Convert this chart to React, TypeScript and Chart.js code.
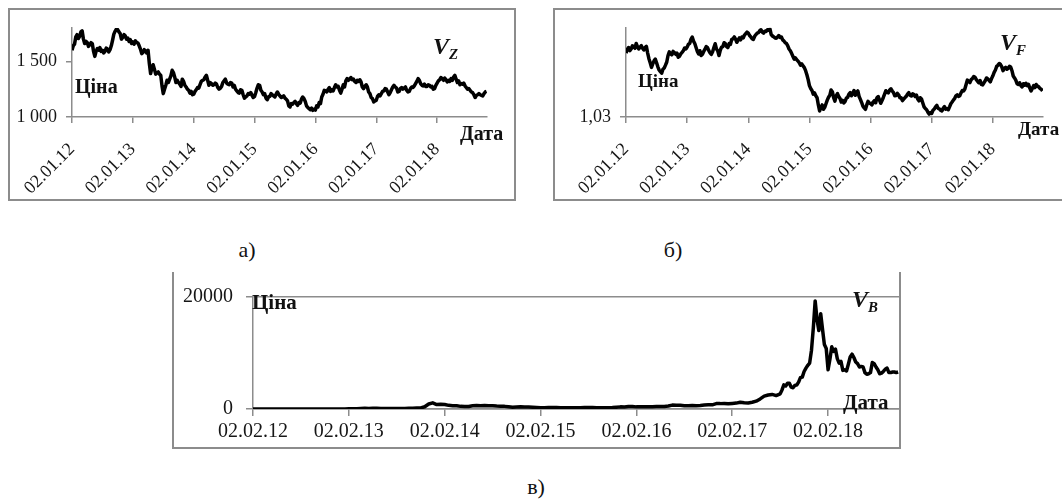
import React, { useEffect, useRef } from 'react';
import { Chart, registerables } from 'chart.js';

Chart.register(...registerables);

// ---------- data ----------
// V_Z : roughly weekly values (4 per month) starting 02.01.12
const zDates = ['02.01.12', '02.01.13', '02.01.14', '02.01.15', '02.01.16', '02.01.17', '02.01.18'];
const zPriceTicks = [1000, 1500];
const zPriceLabels = ['1 000', '1 500'];
const zPrices2012 = [1600, 1640, 1655, 1720, 1740, 1705, 1725, 1765, 1775, 1700, 1660, 1680, 1670, 1635, 1650, 1668, 1660, 1590, 1545, 1590, 1615, 1600, 1625, 1590, 1600, 1575, 1590, 1620, 1610, 1585, 1605, 1640, 1690, 1745, 1770, 1790, 1785, 1765, 1750, 1700, 1715, 1740, 1730, 1700, 1710, 1680, 1695, 1660];
const zPrices2013 = [1675, 1655, 1685, 1670, 1665, 1640, 1610, 1570, 1580, 1605, 1595, 1575, 1600, 1480, 1390, 1440, 1470, 1430, 1385, 1395, 1405, 1385, 1375, 1280, 1210, 1250, 1285, 1330, 1310, 1340, 1370, 1420, 1400, 1360, 1310, 1330, 1310, 1295, 1275, 1340, 1320, 1285, 1270, 1250, 1240, 1215, 1230, 1200];
const zPrices2014 = [1205, 1230, 1245, 1265, 1260, 1290, 1320, 1330, 1335, 1360, 1375, 1330, 1285, 1310, 1300, 1285, 1290, 1305, 1295, 1265, 1250, 1260, 1275, 1310, 1325, 1340, 1305, 1295, 1290, 1310, 1305, 1270, 1285, 1250, 1235, 1220, 1215, 1245, 1240, 1200, 1170, 1180, 1190, 1210, 1205, 1220, 1195, 1175];
const zPrices2015 = [1185, 1220, 1260, 1290, 1285, 1240, 1225, 1200, 1210, 1170, 1155, 1180, 1185, 1210, 1200, 1190, 1180, 1205, 1225, 1205, 1190, 1175, 1180, 1190, 1170, 1160, 1145, 1100, 1090, 1120, 1115, 1130, 1140, 1120, 1105, 1130, 1125, 1160, 1180, 1165, 1140, 1100, 1085, 1075, 1065, 1080, 1060, 1070];
const zPrices2016 = [1062, 1100, 1090, 1130, 1120, 1180, 1205, 1240, 1235, 1225, 1250, 1265, 1230, 1245, 1235, 1265, 1290, 1270, 1275, 1240, 1215, 1250, 1290, 1270, 1325, 1345, 1330, 1340, 1355, 1335, 1340, 1320, 1310, 1330, 1320, 1335, 1315, 1270, 1255, 1275, 1290, 1270, 1225, 1210, 1175, 1165, 1135, 1145];
const zPrices2017 = [1150, 1185, 1200, 1190, 1210, 1230, 1235, 1255, 1250, 1225, 1200, 1220, 1245, 1270, 1285, 1270, 1260, 1225, 1230, 1255, 1265, 1250, 1260, 1270, 1240, 1225, 1230, 1255, 1270, 1265, 1280, 1300, 1320, 1345, 1330, 1300, 1285, 1280, 1295, 1275, 1275, 1290, 1285, 1270, 1275, 1250, 1255, 1285];
const zPrices2018 = [1305, 1325, 1335, 1355, 1345, 1330, 1350, 1335, 1315, 1330, 1320, 1345, 1330, 1360, 1375, 1340, 1310, 1325, 1290, 1300, 1295, 1305, 1280, 1265, 1250, 1255, 1240, 1225, 1220, 1200, 1175, 1195, 1200, 1210, 1200, 1195, 1190, 1210, 1225, 1230];

// V_F : roughly weekly values (4 per month) starting 02.01.12
const fDates = ['02.01.12', '02.01.13', '02.01.14', '02.01.15', '02.01.16', '02.01.17', '02.01.18'];
const fPriceTicks = [1.03];
const fPriceLabels = ['1,03'];
const fPrices2012 = [1.295, 1.31, 1.318, 1.305, 1.312, 1.325, 1.322, 1.315, 1.335, 1.322, 1.312, 1.32, 1.326, 1.315, 1.308, 1.318, 1.323, 1.295, 1.272, 1.255, 1.236, 1.25, 1.263, 1.27, 1.255, 1.238, 1.225, 1.218, 1.212, 1.228, 1.233, 1.245, 1.258, 1.285, 1.3, 1.292, 1.288, 1.302, 1.297, 1.29, 1.295, 1.278, 1.282, 1.292, 1.298, 1.305, 1.316, 1.312];
const fPrices2013 = [1.32, 1.332, 1.335, 1.352, 1.362, 1.345, 1.335, 1.318, 1.302, 1.292, 1.305, 1.285, 1.29, 1.302, 1.311, 1.322, 1.318, 1.305, 1.296, 1.29, 1.301, 1.318, 1.334, 1.312, 1.305, 1.285, 1.307, 1.32, 1.322, 1.338, 1.334, 1.322, 1.318, 1.335, 1.331, 1.352, 1.354, 1.362, 1.353, 1.34, 1.349, 1.358, 1.35, 1.362, 1.358, 1.37, 1.376, 1.382];
const fPrices2014 = [1.378, 1.368, 1.362, 1.355, 1.352, 1.365, 1.372, 1.378, 1.38, 1.388, 1.392, 1.382, 1.378, 1.386, 1.385, 1.392, 1.39, 1.395, 1.372, 1.366, 1.362, 1.358, 1.357, 1.362, 1.368, 1.36, 1.362, 1.35, 1.345, 1.338, 1.335, 1.325, 1.312, 1.305, 1.294, 1.282, 1.27, 1.275, 1.268, 1.262, 1.255, 1.245, 1.25, 1.242, 1.235, 1.222, 1.205, 1.185];
const fPrices2015 = [1.16, 1.148, 1.14, 1.125, 1.13, 1.118, 1.11, 1.08, 1.055, 1.07, 1.08, 1.062, 1.07, 1.085, 1.1, 1.112, 1.12, 1.142, 1.135, 1.11, 1.096, 1.118, 1.127, 1.115, 1.107, 1.092, 1.099, 1.088, 1.095, 1.108, 1.112, 1.125, 1.131, 1.118, 1.128, 1.14, 1.12, 1.132, 1.138, 1.115, 1.103, 1.09, 1.075, 1.068, 1.062, 1.08, 1.095, 1.088];
const fPrices2016 = [1.086, 1.08, 1.092, 1.098, 1.089, 1.11, 1.115, 1.1, 1.087, 1.098, 1.111, 1.125, 1.139, 1.132, 1.13, 1.142, 1.147, 1.138, 1.131, 1.118, 1.119, 1.128, 1.122, 1.11, 1.11, 1.098, 1.104, 1.11, 1.116, 1.125, 1.131, 1.12, 1.117, 1.126, 1.123, 1.115, 1.121, 1.105, 1.097, 1.11, 1.105, 1.088, 1.072, 1.065, 1.06, 1.05, 1.042, 1.048];
const fPrices2017 = [1.045, 1.058, 1.063, 1.072, 1.078, 1.066, 1.064, 1.058, 1.055, 1.066, 1.073, 1.062, 1.065, 1.06, 1.072, 1.085, 1.092, 1.1, 1.107, 1.118, 1.122, 1.115, 1.118, 1.13, 1.14, 1.138, 1.146, 1.165, 1.183, 1.178, 1.173, 1.185, 1.19, 1.198, 1.195, 1.185, 1.178, 1.172, 1.181, 1.165, 1.163, 1.172, 1.18, 1.192, 1.188, 1.182, 1.176, 1.19];
const fPrices2018 = [1.201, 1.215, 1.225, 1.24, 1.245, 1.252, 1.248, 1.238, 1.222, 1.232, 1.236, 1.228, 1.232, 1.24, 1.237, 1.222, 1.2, 1.192, 1.183, 1.168, 1.165, 1.172, 1.16, 1.155, 1.168, 1.162, 1.17, 1.16, 1.165, 1.15, 1.138, 1.148, 1.16, 1.152, 1.165, 1.158, 1.155, 1.148, 1.145, 1.138];

// V_B : semi-monthly values from 02.02.12, then weekly values from mid 2017
const bDates = ['02.02.12', '02.02.13', '02.02.14', '02.02.15', '02.02.16', '02.02.17', '02.02.18'];
const bPriceTicks = [0, 20000];
const bPriceLabels = ['0', '20000'];
const bPricesSemiMonthly = [
  6, 5, 5, 5, 5, 5, 5, 5, 6, 7, 9, 11, 11, 10, 12, 11, 11, 12, 12, 12, 13, 13, 14, 18,
  25, 30, 45, 90, 120, 90, 120, 120, 100, 110, 90, 80, 100, 100, 110, 120, 140, 170, 200, 400, 900, 1100, 800, 850,
  800, 650, 600, 580, 470, 450, 440, 570, 630, 590, 630, 600, 580, 520, 480, 470, 400, 330, 370, 380, 350, 360, 320, 270,
  230, 240, 280, 270, 250, 225, 240, 230, 240, 235, 225, 260, 290, 280, 230, 230, 230, 240, 270, 330, 380, 360, 430, 430,
  380, 400, 420, 415, 420, 430, 450, 450, 530, 700, 690, 660, 580, 570, 610, 600, 630, 700, 740, 750, 970, 960, 1000, 920,
  1000, 1050, 1200, 1100, 1080, 1200, 1400, 1800, 2300, 2500, 2600, 2400,
];
const bPricesWeekly = [
  2700, 3400, 4300, 4100, 4600, 4600, 3900, 3800, 4200, 4300, 4800, 5600, 5700,
  6700, 7300, 7800, 8200, 10500, 14500, 19300, 16000, 14000, 17000, 14200, 11500, 10800,
  7000, 8900, 11100, 10300, 10700, 9000, 8200, 8500, 6900, 7000, 6800, 8000, 9300, 9800,
  9200, 8400, 8100, 7500, 7600, 7500, 6500, 6200, 6300, 6500, 8300, 8100, 7500, 7000,
  6300, 6400, 6700, 7100, 7300, 6500, 6500, 6600, 6600, 6500, 6600,
];

const zPrices = [...zPrices2012, ...zPrices2013, ...zPrices2014, ...zPrices2015, ...zPrices2016, ...zPrices2017, ...zPrices2018];
const fPrices = [...fPrices2012, ...fPrices2013, ...fPrices2014, ...fPrices2015, ...fPrices2016, ...fPrices2017, ...fPrices2018];
const perYearZF = 48;
const semiMonthly = 24;
const weekly = 52;
const bWeeklyStart = 5.5;

// ---------- helpers ----------
const AXIS = '#8c8c8c';
const TXT = '#161616';
const SERIF = '"Liberation Serif", "Times New Roman", serif';

type Cfg = {
  points: { x: number; y: number }[];
  xLabels: string[];
  xMax: number;
  yMin: number;
  yMax: number;
  yTicks: number[];
  yLabels: string[];
  rotate: boolean;
  fontSize: number;
  yWidth: number;
  xHeight: number;
  padTop: number;
  padRight: number;
  yGrid: boolean;
  xTickPad: number;
  yTickPad: number;
  tickLen: number;
  lineWidth: number;
};

function makeConfig(c: Cfg): any {
  return {
    type: 'line',
    data: {
      datasets: [
        {
          data: c.points,
          borderColor: '#000',
          borderWidth: c.lineWidth,
          borderJoinStyle: 'round',
          pointRadius: 0,
          tension: 0,
          fill: false,
        },
      ],
    },
    options: {
      animation: false,
      responsive: false,
      maintainAspectRatio: false,
      events: [],
      plugins: { legend: { display: false }, tooltip: { enabled: false } },
      layout: { padding: { left: 0, top: c.padTop, right: c.padRight, bottom: 0 } },
      scales: {
        x: {
          type: 'linear',
          min: 0,
          max: c.xMax,
          afterBuildTicks: (s: any) => {
            s.ticks = c.xLabels.map((_, i) => ({ value: i }));
          },
          afterFit: (s: any) => {
            s.height = c.xHeight;
          },
          ticks: {
            autoSkip: false,
            maxRotation: c.rotate ? 45 : 0,
            minRotation: c.rotate ? 45 : 0,
            padding: c.xTickPad,
            color: TXT,
            font: { family: SERIF, size: c.fontSize },
            callback: (v: number) => c.xLabels[Math.round(v)] ?? '',
          },
          grid: { drawOnChartArea: false, drawTicks: true, tickLength: c.tickLen, color: AXIS, lineWidth: 1.5 },
          border: { display: true, color: AXIS, width: 1.5 },
        },
        y: {
          type: 'linear',
          min: c.yMin,
          max: c.yMax,
          afterBuildTicks: (s: any) => {
            s.ticks = c.yTicks.map((v) => ({ value: v }));
          },
          afterFit: (s: any) => {
            s.width = c.yWidth;
          },
          ticks: {
            padding: c.yTickPad,
            color: TXT,
            font: { family: SERIF, size: c.fontSize },
            callback: (v: number) => {
              const i = c.yTicks.findIndex((t) => Math.abs(t - v) < 1e-9);
              return i >= 0 ? c.yLabels[i] : '';
            },
          },
          grid: { drawOnChartArea: c.yGrid, drawTicks: true, tickLength: c.tickLen, color: AXIS, lineWidth: 1.5 },
          border: { display: true, color: AXIS, width: 1.5 },
        },
      },
    },
  };
}

function Panel(props: {
  left: number;
  top: number;
  width: number;
  height: number;
  canvasWidth?: number;
  border: React.CSSProperties;
  cfg: Cfg;
}) {
  const ref = useRef<HTMLCanvasElement>(null);
  const cw = props.canvasWidth ?? props.width;
  useEffect(() => {
    const chart = new Chart(ref.current as HTMLCanvasElement, makeConfig(props.cfg));
    return () => chart.destroy();
  }, []);
  return (
    <>
      <canvas
        ref={ref}
        width={cw}
        height={props.height}
        style={{ position: 'absolute', left: props.left, top: props.top, width: cw, height: props.height }}
      />
      <div
        style={{
          position: 'absolute',
          left: props.left,
          top: props.top,
          width: props.width,
          height: props.height,
          boxSizing: 'border-box',
          pointerEvents: 'none',
          ...props.border,
        }}
      />
    </>
  );
}

function Txt(props: { x: number; y: number; size: number; bold?: boolean; children: React.ReactNode; center?: boolean }) {
  return (
    <div
      style={{
        position: 'absolute',
        left: props.x,
        top: props.y,
        fontSize: props.size,
        lineHeight: 1,
        fontWeight: props.bold ? 'bold' : 'normal',
        transform: props.center ? 'translate(-50%, -50%)' : 'translateY(-50%)',
        whiteSpace: 'nowrap',
        color: '#111',
      }}
    >
      {props.children}
    </div>
  );
}

function VLabel(props: { x: number; y: number; sub: string; size: number }) {
  return (
    <div
      style={{
        position: 'absolute',
        left: props.x,
        top: props.y,
        transform: 'translateY(-50%)',
        fontFamily: SERIF,
        fontStyle: 'italic',
        fontWeight: 'bold',
        fontSize: props.size,
        lineHeight: 1,
        whiteSpace: 'nowrap',
        color: '#111',
      }}
    >
      V<span style={{ fontSize: props.size * 0.62, position: 'relative', top: props.size * 0.2 }}>{props.sub}</span>
    </div>
  );
}

export default function App() {
  const zPoints = zPrices.map((v, i) => ({ x: i / perYearZF, y: v }));
  const fPoints = fPrices.map((v, i) => ({ x: i / perYearZF, y: v }));
  const bPoints = [
    ...bPricesSemiMonthly.map((v, i) => ({ x: i / semiMonthly, y: v })),
    ...bPricesWeekly.map((v, i) => ({ x: bWeeklyStart + i / weekly, y: v })),
  ];
  const border = `2px solid ${AXIS}`;

  return (
    <div
      style={{
        position: 'absolute',
        left: 0,
        top: 0,
        width: 1062,
        height: 500,
        overflow: 'hidden',
        background: '#fff',
        fontFamily: SERIF,
      }}
    >
      <Panel
        left={8}
        top={8}
        width={508}
        height={193}
        border={{ border }}
        cfg={{
          points: zPoints,
          xLabels: zDates,
          xMax: 6.82,
          yMin: 1000,
          yMax: 1800,
          yTicks: zPriceTicks,
          yLabels: zPriceLabels,
          rotate: true,
          fontSize: 18,
          yWidth: 64,
          xHeight: 84,
          padTop: 20,
          padRight: 29,
          yGrid: false,
          xTickPad: 16,
          yTickPad: 9,
          tickLen: 6,
          lineWidth: 3.5,
        }}
      />
      <Panel
        left={553}
        top={8}
        width={520}
        canvasWidth={509}
        height={193}
        border={{ border }}
        cfg={{
          points: fPoints,
          xLabels: fDates,
          xMax: 6.82,
          yMin: 1.03,
          yMax: 1.4,
          yTicks: fPriceTicks,
          yLabels: fPriceLabels,
          rotate: true,
          fontSize: 18,
          yWidth: 73,
          xHeight: 84,
          padTop: 13,
          padRight: 19,
          yGrid: false,
          xTickPad: 16,
          yTickPad: 9,
          tickLen: 6,
          lineWidth: 3.5,
        }}
      />
      <Panel
        left={172}
        top={272}
        width={729}
        height={177}
        border={{ borderLeft: border, borderRight: border, borderBottom: border }}
        cfg={{
          points: bPoints,
          xLabels: bDates,
          xMax: 6.74,
          yMin: 0,
          yMax: 20000,
          yTicks: bPriceTicks,
          yLabels: bPriceLabels,
          rotate: false,
          fontSize: 20,
          yWidth: 81,
          xHeight: 40,
          padTop: 13,
          padRight: 2,
          yGrid: true,
          xTickPad: 4,
          yTickPad: 13,
          tickLen: 7,
          lineWidth: 3.5,
        }}
      />

      {/* panel a texts */}
      <Txt x={75} y={86} size={20} bold>Ціна</Txt>
      <Txt x={460} y={133} size={20} bold>Дата</Txt>
      <VLabel x={433} y={46} sub="Z" size={24} />

      {/* panel б texts */}
      <Txt x={638} y={80} size={19} bold>Ціна</Txt>
      <Txt x={1018} y={128} size={19} bold>Дата</Txt>
      <VLabel x={1000} y={42} sub="F" size={24} />

      {/* panel в texts */}
      <Txt x={252} y={302} size={21} bold>Ціна</Txt>
      <Txt x={843} y={402} size={21} bold>Дата</Txt>
      <VLabel x={852} y={299} sub="B" size={24} />

      {/* captions */}
      <Txt x={247} y={250} size={22} center>а)</Txt>
      <Txt x={673} y={250} size={22} center>б)</Txt>
      <Txt x={536} y={487} size={22} center>в)</Txt>
    </div>
  );
}
